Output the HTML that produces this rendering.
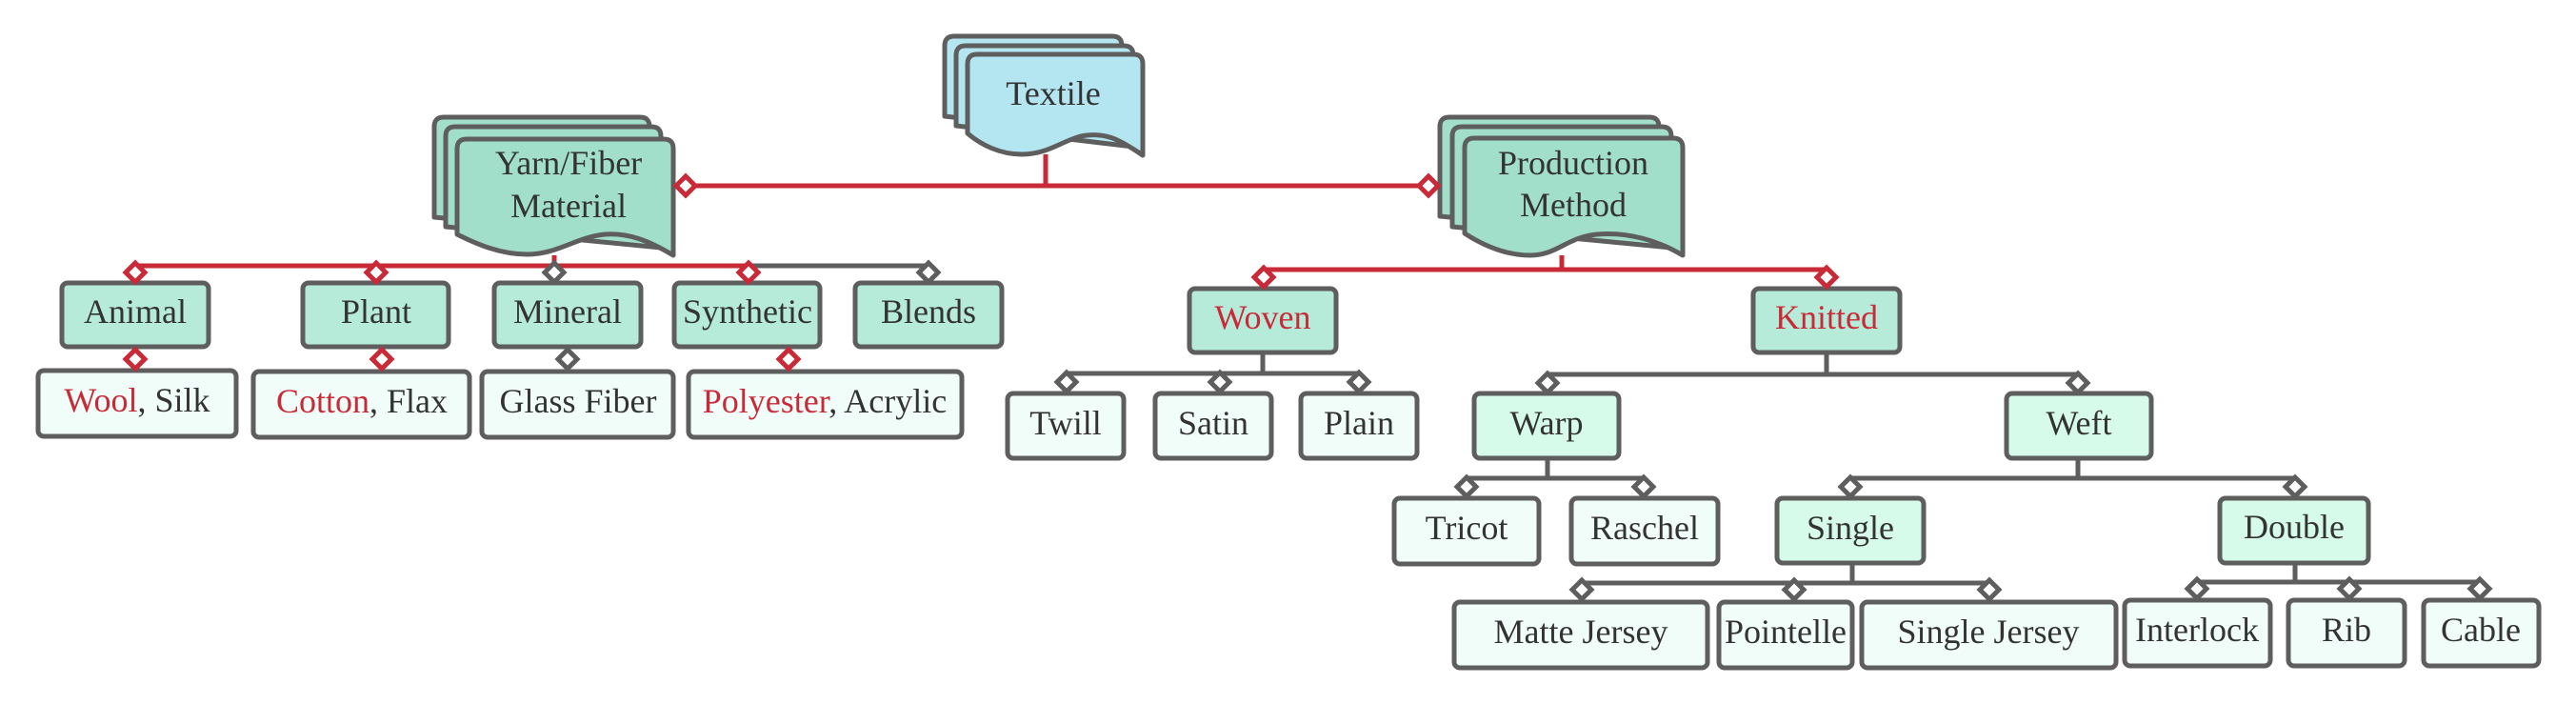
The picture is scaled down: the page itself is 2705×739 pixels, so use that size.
<!DOCTYPE html>
<html><head><meta charset="utf-8"><style>
html,body{margin:0;padding:0;background:#fff;}
svg{display:block;}
text{font-family:"Liberation Serif",serif;font-size:36px;fill:#333;text-anchor:middle;}
.r{fill:#c92a37;}
</style></head><body>
<svg width="2705" height="739" viewBox="0 0 2705 739" xmlns="http://www.w3.org/2000/svg">
<defs>
<g id="dr"><path d="M0,-10 L10,0 L0,10 L-10,0 Z" fill="#fff" stroke="#c92a37" stroke-width="5"/></g>
<g id="dg"><path d="M0,-10 L10,0 L0,10 L-10,0 Z" fill="#fff" stroke="#5e5e5e" stroke-width="5"/></g>
</defs>

<g fill="none" stroke-width="5" stroke-linejoin="round">
<path d="M1098,162 V195 M720,195 H1500" stroke="#c92a37"/>
<path d="M582,268 V279 M142,279 H786" stroke="#c92a37"/>
<path d="M786,279 H975" stroke="#5e5e5e"/>
<path d="M142,364 V389 M401,364 V389 M828,364 V389" stroke="#c92a37"/>
<path d="M596,364 V389" stroke="#5e5e5e"/>
<path d="M1640,268 V283 M1327,283 H1918" stroke="#c92a37"/>
<path d="M1326,370 V392 M1120,392 H1427" stroke="#5e5e5e"/>
<path d="M1918,370 V393 M1625,393 H2182" stroke="#5e5e5e"/>
<path d="M1625,481 V502 M1540,502 H1726" stroke="#5e5e5e"/>
<path d="M2182,481 V502 M1943,502 H2410" stroke="#5e5e5e"/>
<path d="M1945,591 V612 M1661,612 H2089" stroke="#5e5e5e"/>
<path d="M2410,591 V611 M2307,611 H2604" stroke="#5e5e5e"/>
</g>

<g stroke="#5e5e5e" stroke-width="5" stroke-linejoin="round">
<g fill="#b4e6f1">
<path d="M992,48 Q992,38 1002,38 H1168 Q1178,38 1178,48 V144 L992,122 Z"/>
<path d="M1004,58 Q1004,48 1014,48 H1180 Q1190,48 1190,58 V154 L1004,132 Z"/>
<path d="M1016,67 Q1016,57 1026,57 H1190 Q1200,57 1200,67 V163 C1175,146 1160,138 1135,143 C1115,148 1100,162 1073,162 C1050,162 1030,152 1016,140 Z"/>
</g>
<g fill="#a2dfca">
<path d="M456,133 Q456,123 466,123 H672 Q682,123 682,133 V250 L456,228 Z"/>
<path d="M468,143 Q468,133 478,133 H684 Q694,133 694,143 V260 L468,238 Z"/>
<path d="M480,156 Q480,146 490,146 H697 Q707,146 707,156 V268 C682,253 660,244 635,246 C605,249 585,267 554,267 C525,267 500,256 480,246 Z"/>
</g>
<g fill="#a2dfca">
<path d="M1512,133 Q1512,123 1522,123 H1732 Q1742,123 1742,133 V250 L1512,227 Z"/>
<path d="M1525,143 Q1525,133 1535,133 H1745 Q1755,133 1755,143 V260 L1525,238 Z"/>
<path d="M1538,155 Q1538,145 1548,145 H1757 Q1767,145 1767,155 V268 C1742,253 1710,243 1677,246 C1645,249 1635,268 1607,268 C1580,268 1555,256 1538,245 Z"/>
</g>
</g>
<text x="1106" y="110">Textile</text>
<text x="597" y="183">Yarn/Fiber</text>
<text x="597" y="228">Material</text>
<text x="1652" y="183">Production</text>
<text x="1652" y="227">Method</text>

<g stroke="#5e5e5e" stroke-width="5">
<g fill="#b6ebd9">
<rect x="65" y="297" width="154" height="67" rx="6"/>
<rect x="318" y="297" width="153" height="67" rx="6"/>
<rect x="519" y="297" width="154" height="67" rx="6"/>
<rect x="708" y="297" width="153" height="67" rx="6"/>
<rect x="898" y="297" width="154" height="67" rx="6"/>
<rect x="1249" y="303" width="154" height="67" rx="6"/>
<rect x="1841" y="303" width="154" height="67" rx="6"/>
</g>
<g fill="#d6fbea">
<rect x="1548" y="413" width="152" height="68" rx="6"/>
<rect x="2107" y="413" width="152" height="68" rx="6"/>
<rect x="1866" y="523" width="154" height="68" rx="6"/>
<rect x="2331" y="523" width="156" height="68" rx="6"/>
</g>
<g fill="#f1fdf9">
<rect x="40" y="389" width="208" height="69" rx="6"/>
<rect x="266" y="390" width="227" height="69" rx="6"/>
<rect x="506" y="390" width="201" height="69" rx="6"/>
<rect x="723" y="390" width="287" height="69" rx="6"/>
<rect x="1058" y="413" width="122" height="68" rx="6"/>
<rect x="1213" y="413" width="122" height="68" rx="6"/>
<rect x="1366" y="413" width="122" height="68" rx="6"/>
<rect x="1464" y="523" width="152" height="69" rx="6"/>
<rect x="1650" y="523" width="154" height="69" rx="6"/>
<rect x="1527" y="632" width="266" height="69" rx="6"/>
<rect x="1805" y="632" width="140" height="69" rx="6"/>
<rect x="1955" y="632" width="267" height="69" rx="6"/>
<rect x="2231" y="630" width="153" height="69" rx="6"/>
<rect x="2403" y="630" width="122" height="69" rx="6"/>
<rect x="2545" y="630" width="121" height="69" rx="6"/>
</g>
</g>

<use href="#dr" x="720" y="195"/>
<use href="#dr" x="1500" y="195"/>
<use href="#dr" x="142" y="286"/>
<use href="#dr" x="395" y="286"/>
<use href="#dg" x="582" y="286"/>
<use href="#dr" x="786" y="286"/>
<use href="#dg" x="975" y="286"/>
<use href="#dr" x="142" y="377"/>
<use href="#dr" x="401" y="377"/>
<use href="#dg" x="596" y="377"/>
<use href="#dr" x="828" y="377"/>
<use href="#dr" x="1327" y="291"/>
<use href="#dr" x="1918" y="291"/>
<use href="#dg" x="1120" y="401"/>
<use href="#dg" x="1281" y="401"/>
<use href="#dg" x="1427" y="401"/>
<use href="#dg" x="1625" y="402"/>
<use href="#dg" x="2182" y="402"/>
<use href="#dg" x="1540" y="511"/>
<use href="#dg" x="1726" y="511"/>
<use href="#dg" x="1943" y="511"/>
<use href="#dg" x="2410" y="511"/>
<use href="#dg" x="1661" y="619"/>
<use href="#dg" x="1884" y="619"/>
<use href="#dg" x="2089" y="619"/>
<use href="#dg" x="2307" y="618"/>
<use href="#dg" x="2467" y="618"/>
<use href="#dg" x="2604" y="618"/>

<text x="142" y="339">Animal</text>
<text x="395" y="339">Plant</text>
<text x="596" y="339">Mineral</text>
<text x="785" y="339">Synthetic</text>
<text x="975" y="339">Blends</text>
<text x="144" y="432"><tspan class="r">Wool</tspan>, Silk</text>
<text x="380" y="433"><tspan class="r">Cotton</tspan>, Flax</text>
<text x="607" y="433">Glass Fiber</text>
<text x="866" y="433"><tspan class="r">Polyester</tspan>, Acrylic</text>
<text x="1326" y="345" class="r">Woven</text>
<text x="1918" y="345" class="r">Knitted</text>
<text x="1119" y="456">Twill</text>
<text x="1274" y="456">Satin</text>
<text x="1427" y="456">Plain</text>
<text x="1624" y="456">Warp</text>
<text x="2183" y="456">Weft</text>
<text x="1540" y="566">Tricot</text>
<text x="1727" y="566">Raschel</text>
<text x="1943" y="566">Single</text>
<text x="2409" y="565">Double</text>
<text x="1660" y="675">Matte Jersey</text>
<text x="1875" y="675">Pointelle</text>
<text x="2088" y="675">Single Jersey</text>
<text x="2307" y="673">Interlock</text>
<text x="2464" y="673">Rib</text>
<text x="2605" y="673">Cable</text>
</svg>
</body></html>
